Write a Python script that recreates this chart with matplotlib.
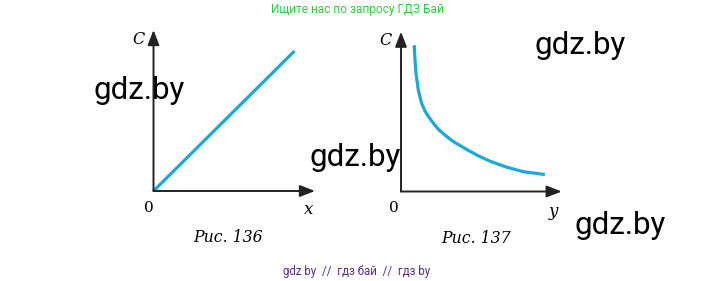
import matplotlib
matplotlib.use("Agg")
import matplotlib.pyplot as plt

W, H = 713, 281

# fig. 136: straight line C(x), units are picture pixels from the origin
line_x = [0, 141]
line_c = [0, 140]

# fig. 137: falling curve C(y)
curve_y = [13.3, 14, 15, 17.3, 20.5, 24, 28.5, 33, 38, 45, 52, 65.7, 77.3, 89, 105.7, 122.3, 142.3]
curve_c = [144.8, 131.5, 118.2, 101.5, 88.5, 80.5, 73.5, 67.5, 61.5, 55.5, 50.2, 42, 35.7, 30.3, 24.3, 19.8, 17.2]

captions = ["Рис. 136", "Рис. 137"]
axis_names = ["x", "y"]
watermarks = [(139, 90), (355, 157), (580, 46), (620, 226)]

BLUE = "#1ba8dc"
AXIS = "#222222"
SERIF = ["DejaVu Serif"]

fig = plt.figure(figsize=(W / 100, H / 100), dpi=100)


def make_axes(ox, oy, size=170):
    ax = fig.add_axes([ox / W, 1 - oy / H, size / W, size / H])
    ax.set_xlim(0, size)
    ax.set_ylim(0, size)
    ax.axis("off")
    return ax


def draw_arrows(ax, xmax, ymax):
    style = dict(arrowstyle="-|>,head_length=0.9,head_width=0.35", color=AXIS,
                 lw=1.4, shrinkA=0, shrinkB=0)
    ax.annotate("", xy=(xmax, 0), xytext=(0, 0), arrowprops=style,
                annotation_clip=False)
    ax.annotate("", xy=(0, ymax), xytext=(0, 0), arrowprops=style,
                annotation_clip=False)


def labels(ax, name, cx, zx, name_x, name_y, caption):
    ax.text(cx, 151, "C", fontsize=11.5, style="italic", family=SERIF, ha="center", va="center")
    ax.text(zx, -17, "0", fontsize=11, family=SERIF, ha="center", va="center")
    ax.text(name_x, name_y, name, fontsize=12, style="italic", family=SERIF,
            ha="center", va="center")
    ax.text(75, -47, caption, fontsize=11.3, style="italic", family=SERIF, ha="center", va="center")


# left chart
ax1 = make_axes(153.5, 191)
draw_arrows(ax1, 161.5, 161)
ax1.plot(line_x, line_c, color=BLUE, lw=2.3, solid_capstyle="butt", clip_on=False)
labels(ax1, axis_names[0], -15, -5, 155, -19, captions[0])

# right chart
ax2 = make_axes(401, 191.5)
draw_arrows(ax2, 160.7, 159.8)
ax2.plot(curve_y, curve_c, color=BLUE, lw=2.3, solid_joinstyle="round", clip_on=False)
labels(ax2, axis_names[1], -16, -7.5, 152, -20, captions[1])

# watermarks and header/footer
for wx, wy in watermarks:
    fig.text(wx / W, 1 - wy / H, "gdz.by", fontsize=22.5, family="Roboto",
             color="black", ha="center", va="center")

fig.text(357 / W, 1 - 9 / H, "Ищите нас по запросу ГДЗ Бай", fontsize=8.6,
         family="Roboto", color="#2ecc40", ha="center", va="center")
fig.text(357 / W, 1 - 271 / H, "gdz by  //  гдз бай  //  гдз by", fontsize=8.3,
         family="Roboto", color="#5b2a86", ha="center", va="center")

fig.savefig("out.png", dpi=100)
